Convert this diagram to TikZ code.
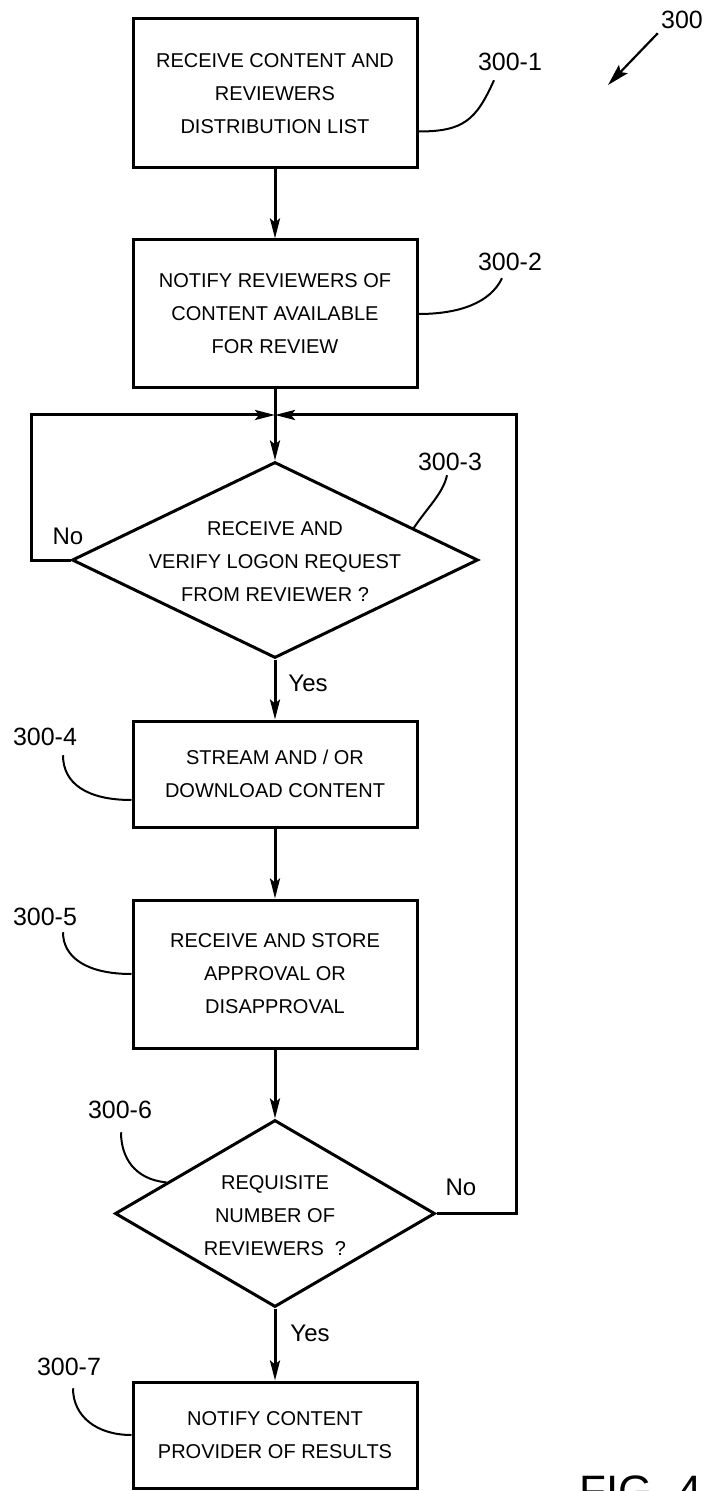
\documentclass[tikz,border=0pt]{standalone}
\usepackage{fontspec}
\setmainfont{Liberation Sans}
\usetikzlibrary{shapes.geometric, arrows.meta}

\tikzset{
    box/.style={draw, line width=1.5pt, minimum width=142pt, align=center, inner sep=0pt,
        font=\fontsize{10}{16.5}\selectfont},
    decision/.style={draw, diamond, line width=1.5pt, inner sep=0pt},
    decisiontext/.style={align=center, inner sep=0pt, font=\fontsize{10}{16.5}\selectfont},
    flow/.style={line width=1.5pt, -{Stealth[length=10pt,width=5pt,inset=2pt]}},
    leader/.style={line width=1pt},
    reflabel/.style={inner sep=0pt, font=\fontsize{12.5}{15}\selectfont},
    yesno/.style={inner sep=0pt, font=\fontsize{12}{14}\selectfont}
}

\begin{document}
\begin{tikzpicture}[x=0.5pt, y=-0.5pt]
                \path[use as bounding box, clip] (0,0) rectangle (705,1491);
                \node[box, minimum height=74.5pt] (b1) at (275,93.5) {RECEIVE CONTENT AND\\REVIEWERS\\DISTRIBUTION LIST};
                \node[box, minimum height=74pt] (b2) at (275,314) {NOTIFY REVIEWERS OF\\CONTENT AVAILABLE\\FOR REVIEW};
                \node[decision, minimum width=203pt, minimum height=98pt] (d3) at (275,560) {};
                \node[decisiontext] (t3) at (275,561.5) {RECEIVE AND\\VERIFY LOGON REQUEST\\FROM REVIEWER ?};
                \node[box, minimum height=53pt] (b4) at (275,774) {STREAM AND / OR\\DOWNLOAD CONTENT};
                \node[box, minimum height=74pt] (b5) at (275,974) {RECEIVE AND STORE\\APPROVAL OR\\DISAPPROVAL};
                \node[decision, minimum width=160pt, minimum height=93.5pt] (d6) at (275,1213.5) {};
                \node[decisiontext] (t6) at (275,1216) {REQUISITE\\NUMBER OF\\REVIEWERS\ \ ?};
                \node[box, minimum height=53pt] (b7) at (275,1435) {NOTIFY CONTENT\\PROVIDER OF RESULTS};

                \coordinate (j) at (275,415);
                \coordinate (lp) at (31,415);
                \coordinate (rp) at (516,415);
                \coordinate (p300) at (608,85);

                \draw[flow] (b1) -- (b2);
                \draw[flow] (b2) -- (d3);
                \draw[flow] (d3.west) -| (lp) -- (j);
                \draw[flow] (d6.east) -| (rp) -- (j);
                \draw[flow] (d3) -- (b4);
                \draw[flow] (b4) -- (b5);
                \draw[flow] (b5) -- (d6);
                \draw[flow] (d6) -- (b7);

                \node[yesno] (no3) at (68,536) {No};
                \node[yesno] (yes3) at (308,683) {Yes};
                \node[yesno] (no6) at (461,1187) {No};
                \node[yesno] (yes6) at (310,1333) {Yes};

                \foreach \n/\x/\y in {1/510/62, 2/510/262, 3/450/462, 4/45/737, 5/45/917, 6/120/1110, 7/69/1367}{
                    \node[reflabel] (l\n) at (\x,\y) {300-\n};
                }
                \draw[leader] ([yshift=-19pt]b1.east) .. controls +(45,0) and +(-18,40) .. ([shift={(-16,9)}]l1.south);
                \draw[leader] (b2.east) .. controls +(40,0) and +(-12,25) .. ([shift={(-8,7)}]l2.south);
                \draw[leader] (d3.13) .. controls +(15,-22) and +(-4,18) .. ([shift={(-3,4)}]l3.south);
                \draw[leader] ([yshift=-13pt]b4.west) .. controls +(-45,0) and +(0,28) .. ([shift={(18,9)}]l4.south);
                \draw[leader] (b5.west) .. controls +(-45,0) and +(0,25) .. ([shift={(18,6)}]l5.south);
                \draw[leader] (d6.164) .. controls +(-32,-3) and +(0,25) .. ([shift={(1,13)}]l6.south);
                \draw[leader] (b7.west) .. controls +(-35,0) and +(0,28) .. ([shift={(4,12)}]l7.south);

                \node[reflabel] (ref300) at (682,20) {300};
                \draw[line width=1.1pt, -{Stealth[length=11pt,width=6pt,inset=2pt]}] ([shift={(-3,4)}]ref300.south west) -- (p300);

                \node[anchor=base west, inner sep=0pt, font=\fontsize{22}{26}\selectfont] (fig) at (579,1506) {FIG. 4};
            \end{tikzpicture}
\end{document}
